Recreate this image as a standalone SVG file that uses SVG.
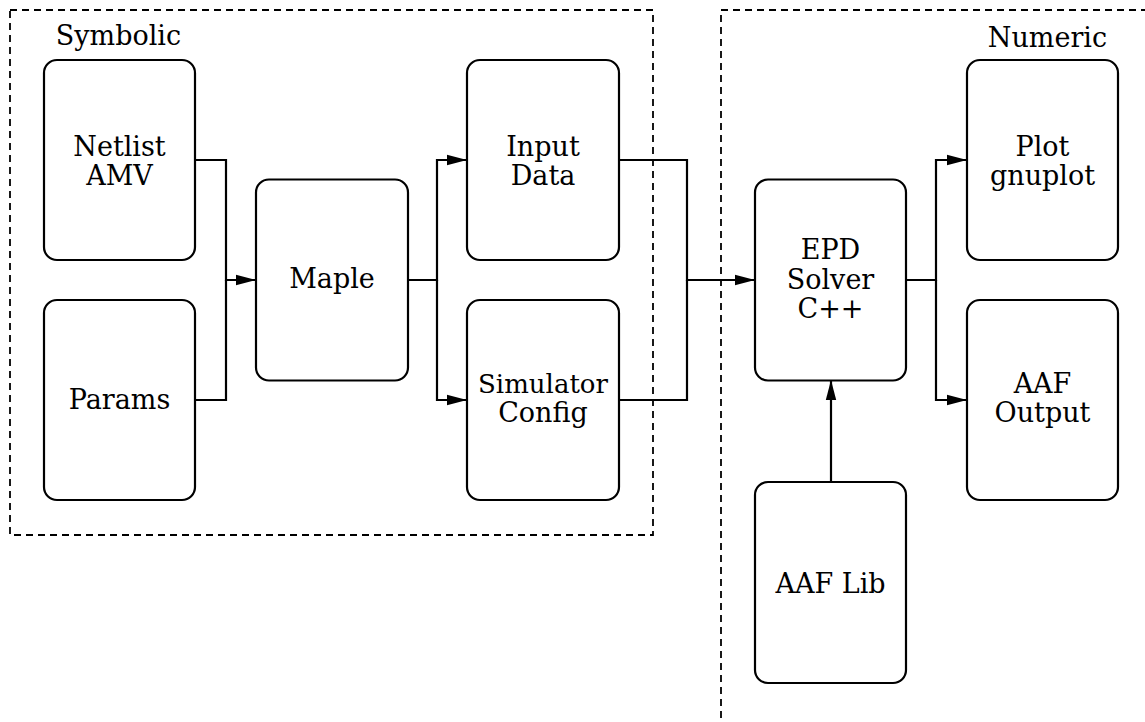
<svg xmlns="http://www.w3.org/2000/svg" width="1145" height="722" viewBox="0 0 1145 722">
  <style>
    .box { fill: #fff; stroke: #000; stroke-width: 2.2; }
    .group { fill: none; stroke: #000; stroke-width: 1.8; stroke-dasharray: 7 5; }
    .wire { fill: none; stroke: #000; stroke-width: 2.2; }
    .label { font-family: "DejaVu Serif", "Liberation Serif", serif; font-size: 27px; fill: #000; text-anchor: middle; }
  </style>
  <defs>
    <marker id="arrow" markerUnits="userSpaceOnUse" markerWidth="20" markerHeight="12" refX="20" refY="6" orient="auto">
      <path d="M0,0.8 L20,6 L0,11.2 Z" fill="#000"/>
    </marker>
  </defs>

  <rect width="1145" height="722" fill="#fff"/>

  <!-- domain groups -->
  <g id="symbolic-domain">
    <rect class="group" x="10" y="10" width="643" height="525"/>
    <text class="label" x="118.5" y="45">Symbolic</text>
  </g>
  <g id="numeric-domain">
    <rect class="group" x="721" y="10" width="520" height="800"/>
    <text class="label" x="1047.5" y="47">Numeric</text>
  </g>

  <!-- connectors -->
  <g id="connectors">
    <path class="wire" d="M195,160 H226 V280 H256" marker-end="url(#arrow)"/>
    <path class="wire" d="M195,400 H226 V280"/>
    <path class="wire" d="M408,280 H437 V160 H467" marker-end="url(#arrow)"/>
    <path class="wire" d="M437,280 V400 H467" marker-end="url(#arrow)"/>
    <path class="wire" d="M619,160 H687 V280 H755" marker-end="url(#arrow)"/>
    <path class="wire" d="M619,400 H687 V280"/>
    <path class="wire" d="M906,280 H936 V160 H967" marker-end="url(#arrow)"/>
    <path class="wire" d="M936,280 V400 H967" marker-end="url(#arrow)"/>
    <path class="wire" d="M831,482 V380" marker-end="url(#arrow)"/>
  </g>

  <!-- nodes -->
  <g id="netlist">
    <rect class="box" x="44" y="60" width="151" height="200" rx="13"/>
    <text class="label" x="119.5" y="156">Netlist</text>
    <text class="label" x="119.5" y="185">AMV</text>
  </g>
  <g id="params">
    <rect class="box" x="44" y="300" width="151" height="200" rx="13"/>
    <text class="label" x="119.5" y="409">Params</text>
  </g>
  <g id="maple">
    <rect class="box" x="256" y="179.5" width="152" height="201" rx="13"/>
    <text class="label" x="332" y="288">Maple</text>
  </g>
  <g id="input-data">
    <rect class="box" x="467" y="60" width="152" height="200" rx="13"/>
    <text class="label" x="543" y="156">Input</text>
    <text class="label" x="543" y="185">Data</text>
  </g>
  <g id="simulator-config">
    <rect class="box" x="467" y="300" width="152" height="200" rx="13"/>
    <text class="label" x="543" y="393" style="font-size:26px">Simulator</text>
    <text class="label" x="543" y="422">Config</text>
  </g>
  <g id="epd-solver">
    <rect class="box" x="755" y="179.5" width="151" height="201" rx="13"/>
    <text class="label" x="830.5" y="259">EPD</text>
    <text class="label" x="830.5" y="288.5">Solver</text>
    <text class="label" x="830.5" y="318">C++</text>
  </g>
  <g id="plot">
    <rect class="box" x="967" y="60" width="151" height="200" rx="13"/>
    <text class="label" x="1042.5" y="156">Plot</text>
    <text class="label" x="1042.5" y="185">gnuplot</text>
  </g>
  <g id="aaf-output">
    <rect class="box" x="967" y="300" width="151" height="200" rx="13"/>
    <text class="label" x="1042.5" y="393">AAF</text>
    <text class="label" x="1042.5" y="422">Output</text>
  </g>
  <g id="aaf-lib">
    <rect class="box" x="755" y="482" width="151" height="201" rx="13"/>
    <text class="label" x="830.5" y="593">AAF Lib</text>
  </g>
</svg>
